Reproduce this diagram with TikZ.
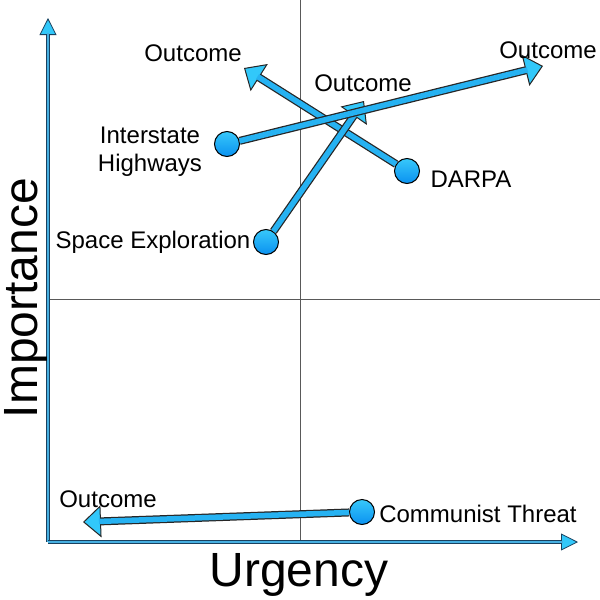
\documentclass[tikz,border=0pt]{standalone}
\usepackage{fontspec}
\setmainfont{Liberation Sans}
\usetikzlibrary{arrows.meta}
\definecolor{arrowblue}{RGB}{38,178,242}
\definecolor{tipblue}{RGB}{50,200,250}
\definecolor{axisdark}{RGB}{25,65,95}
\definecolor{axislight}{RGB}{70,175,225}
\definecolor{dottop}{RGB}{55,200,250}
\definecolor{dotbot}{RGB}{10,145,240}
\tikzset{
  lbl/.style={inner sep=0pt, font=\fontsize{24}{28}\selectfont},
  biglbl/.style={inner sep=0pt, font=\fontsize{48}{52}\selectfont},
  dot/.style={circle, draw=black, line width=1pt, minimum size=25pt, inner sep=0pt, top color=dottop, bottom color=dotbot},
  shaftout/.style={line width=8pt, draw=black!85, -{Triangle[length=18pt,width=32pt,line width=1pt,fill=tipblue]}},
  shaftin/.style={line width=5.5pt, draw=arrowblue, shorten >=16pt},
  axisout/.style={line width=3.5pt, draw=axisdark, -{Triangle[length=17pt,width=17pt,line width=0.8pt,fill=tipblue]}},
  axisin/.style={line width=1.4pt, draw=axislight, shorten >=15pt},
  grid/.style={draw=black!65, line width=0.8pt},
}
\begin{document}
\begin{tikzpicture}[x=1pt,y=-1pt]
\useasboundingbox (0,0) rectangle (600,600);
% grid lines
\coordinate (vt) at (300,0);
\coordinate (vb) at (300,542);
\coordinate (hl) at (48,299);
\coordinate (hr) at (600,299);
\draw[grid] (vt) -- (vb);
\draw[grid] (hl) -- (hr);
% axes
\coordinate (o) at (48,542);
\coordinate (ytop) at (48,18);
\coordinate (xend) at (578,542);
\draw[axisout] (o) -- (ytop);
\draw[axisin] (o) -- (ytop);
\draw[axisout] (o) -- (xend);
\draw[axisin] (o) -- (xend);
\node[biglbl, rotate=90] (imp) at (26,298) {Importance};
\node[biglbl] (urg) at (299,575) {Urgency};
% dots
\node[dot] (ih) at (227,144) {};
\node[dot] (darpa) at (407,171) {};
\node[dot] (space) at (266,242) {};
\node[dot] (comm) at (362,512) {};
% ends
\coordinate (ihend) at (543,66);
\coordinate (darpaend) at (244,68);
\coordinate (spaceend) at (364,101);
\coordinate (commend) at (83,522);
% arrows
\draw[shaftout] (darpa) -- (darpaend);
\draw[shaftin] (darpa) -- (darpaend);
\draw[shaftout] (space) -- (spaceend);
\draw[shaftin] (space) -- (spaceend);
\draw[shaftout] (ih) -- (ihend);
\draw[shaftin] (ih) -- (ihend);
\draw[shaftout] (comm) -- (commend);
\draw[shaftin] (comm) -- (commend);
% labels
\node[lbl] (o1) at (193,53) {Outcome};
\node[lbl] (o2) at (548,50) {Outcome};
\node[lbl] (o3) at (363,83) {Outcome};
\node[lbl] (o4) at (108,499) {Outcome};
\node[lbl, align=center] (ihl) at (150,152) {Interstate\\Highways};
\node[lbl] (dl) at (471,179) {DARPA};
\node[lbl] (sl) at (153,242) {Space Exploration};
\node[lbl] (cl) at (478,514) {Communist Threat};
\end{tikzpicture}
\end{document}
